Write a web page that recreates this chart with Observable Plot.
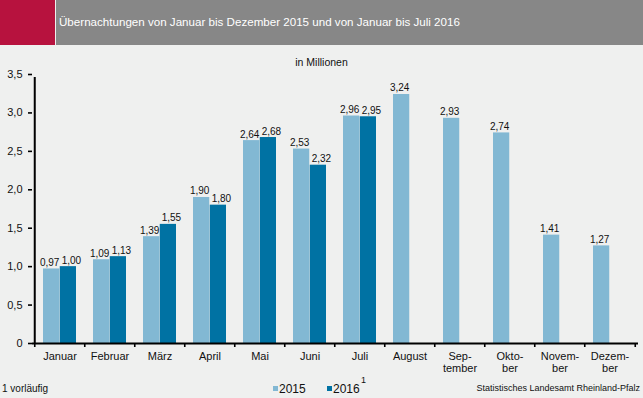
<!DOCTYPE html>
<html>
<head>
<meta charset="utf-8">
<script src="https://cdn.jsdelivr.net/npm/d3@7"></script>
<script src="https://cdn.jsdelivr.net/npm/@observablehq/plot@0.6"></script>
<style>
  html, body { margin: 0; padding: 0; }
  body { width: 643px; height: 398px; background: #eff0ef; font-family: "Liberation Sans", Arial, sans-serif; overflow: hidden; }
  #wrap { position: relative; width: 643px; height: 398px; }
  #chart { position: absolute; left: 0; top: 0; }
  .abs { position: absolute; white-space: nowrap; color: #111; }
  #red { left: 0; top: 0; width: 55px; height: 45px; background: #b7123e; }
  #gray { left: 56px; top: 0; width: 587px; height: 45px; background: #878787; }
  #title { left: 59px; top: 15px; font-size: 11.6px; color: #fff; }
  #unit { left: 0; width: 643px; text-align: center; top: 56px; font-size: 10.5px; }
  #note { left: 2px; top: 383px; font-size: 10px; }
  #source { right: 3px; top: 383px; font-size: 9px; }
  .sq { position: absolute; width: 5px; height: 5px; }
  .lg { font-size: 12px; top: 382px; }
  #sup { left: 361px; top: 375px; font-size: 9px; }
</style>
</head>
<body>
<div id="wrap">
  <div id="chart"></div>
  <div class="abs" id="red"></div>
  <div class="abs" id="gray"></div>
  <div class="abs" id="title">Übernachtungen von Januar bis Dezember 2015 und von Januar bis Juli 2016</div>
  <div class="abs" id="unit">in Millionen</div>
  <div class="abs" id="note">1 vorläufig</div>
  <div class="abs" id="source">Statistisches Landesamt Rheinland-Pfalz</div>
  <div class="sq" style="left:273px;top:386px;background:#82b8d3"></div>
  <div class="abs lg" style="left:279px">2015</div>
  <div class="sq" style="left:327px;top:386px;background:#0072a3"></div>
  <div class="abs lg" style="left:333px">2016</div>
  <div class="abs" id="sup">1</div>
</div>
<script>
const months = ["Januar","Februar","März","April","Mai","Juni","Juli","August","September","Oktober","November","Dezember"];
const monthLabels = ["Januar","Februar","März","April","Mai","Juni","Juli","August","Sep-\ntember","Okto-\nber","Novem-\nber","Dezem-\nber"];
const v2015 = [0.97, 1.09, 1.39, 1.90, 2.64, 2.53, 2.96, 3.24, 2.93, 2.74, 1.41, 1.27];
const v2016 = [1.00, 1.13, 1.55, 1.80, 2.68, 2.32, 2.95];
const yTicks = [0, 0.5, 1.0, 1.5, 2.0, 2.5, 3.0, 3.5];

const c2015 = "#82b8d3";
const c2016 = "#0072a3";

const rows2015 = months.map((m, i) => ({month: m, value: v2015[i]}));
const rows2016 = v2016.map((v, i) => ({month: months[i], value: v}));
const labelRows = months.map((m, i) => ({month: m, label: monthLabels[i]}));

const W = 643, H = 398, mL = 32, mR = 5, mT = 74, mB = 55;
const pInner = 0.337;
const step = (W - mL - mR) / months.length;
const bw = step * (1 - pInner);
const fmt2 = d => d.toFixed(2).replace(".", ",");

const plot = Plot.plot({
  width: W, height: H,
  marginLeft: mL, marginRight: mR, marginTop: mT, marginBottom: mB,
  style: {background: "transparent", fontFamily: "Liberation Sans, Arial, sans-serif", fontSize: "11px", color: "#111"},
  x: {type: "band", domain: months, paddingInner: pInner, paddingOuter: pInner / 2, axis: null},
  y: {domain: [0, 3.5], axis: null},
  marks: [
    Plot.barY(rows2015, {x: "month", y: "value", fill: c2015, insetRight: bw / 2}),
    Plot.barY(rows2016, {x: "month", y: "value", fill: c2016, insetLeft: bw / 2}),
    Plot.text(rows2015, {x: "month", y: "value", text: d => fmt2(d.value), dx: -bw / 4 - 2, dy: -3, lineAnchor: "bottom", fill: "#111", fontSize: 10}),
    Plot.text(rows2016, {x: "month", y: "value", text: d => fmt2(d.value), dx: bw / 4 + 3, dy: -3, lineAnchor: "bottom", fill: "#111", fontSize: 10}),
    Plot.axisY({ticks: yTicks, tickFormat: d => d === 0 ? "0" : d.toFixed(1).replace(".", ","), tickSize: 4, tickPadding: 6, stroke: "#000", strokeWidth: 1.6, fontSize: 11, fill: "#111"}),
    // y axis line
    Plot.ruleX([months[0]], {x: d => d, dx: -step / 2, y1: 0, y2: 3.5, insetBottom: -3, stroke: "#000", strokeWidth: 2}),
    // x axis line
    Plot.ruleY([0], {stroke: "#000", strokeWidth: 2}),
    // category boundary ticks
    Plot.ruleX(months, {x: d => d, dx: -step / 2, y1: 0, y2: 0, insetBottom: -4, stroke: "#000", strokeWidth: 1.6}),
    Plot.ruleX([months[months.length - 1]], {x: d => d, dx: step / 2, y1: 0, y2: 0, insetBottom: -4, stroke: "#000", strokeWidth: 1.6}),
    // month labels
    Plot.text(labelRows, {x: "month", y: 0, text: "label", dy: 8, lineAnchor: "top", lineHeight: 1.1, fontSize: 11, fill: "#111"})
  ]
});
document.getElementById("chart").appendChild(plot);
</script>
</body>
</html>
